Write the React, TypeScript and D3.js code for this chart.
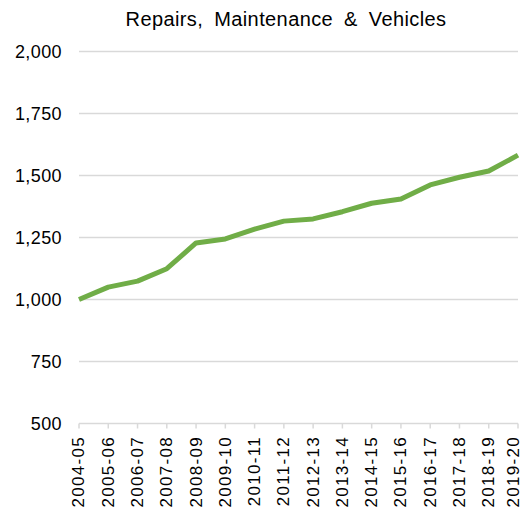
import React from "react";
import * as d3 from "d3";

const categories = [
  "2004-05", "2005-06", "2006-07", "2007-08", "2008-09", "2009-10", "2010-11", "2011-12",
  "2012-13", "2013-14", "2014-15", "2015-16", "2016-17", "2017-18", "2018-19", "2019-20",
];
const values = [
  1000, 1050, 1074, 1124, 1228, 1244, 1284, 1316,
  1325, 1354, 1388, 1405, 1462, 1493, 1518, 1582,
];
const yTicks = [500, 750, 1000, 1250, 1500, 1750, 2000];
const title = "Repairs, Maintenance & Vehicles";

export default function App() {
  const width = 526;
  const height = 509;
  const x = d3.scalePoint<string>().domain(categories).range([79, 518]);
  const y = d3.scaleLinear().domain([500, 2000]).range([423.5, 51.5]);
  const line = d3
    .line<number>()
    .x((_, i) => x(categories[i]) as number)
    .y((d) => y(d));
  const font = "'Liberation Sans', Arial, sans-serif";

  return (
    <svg
      width={width}
      height={height}
      style={{ position: "absolute", left: 0, top: 0, background: "#fff" }}
    >
      <text
        x={286}
        y={26}
        textAnchor="middle"
        fontFamily={font}
        fontSize={20}
        letterSpacing={0.4}
        fill="#000"
        style={{ wordSpacing: "5px" }}
      >
        {title}
      </text>
      {yTicks.map((t) => (
        <g key={t}>
          <line x1={79} x2={518} y1={y(t)} y2={y(t)} stroke="#d9d9d9" strokeWidth={1.5} />
          <text
            x={62}
            y={y(t)}
            dy="0.35em"
            textAnchor="end"
            fontFamily={font}
            fontSize={18}
            letterSpacing={0.4}
            fill="#000"
          >
            {d3.format(",")(t)}
          </text>
        </g>
      ))}
      {categories.map((c) => {
        const cx = x(c) as number;
        const lx = Math.min(cx - 0.5, width - 13);
        return (
          <g key={c}>
            <line x1={cx} x2={cx} y1={y(500)} y2={y(500) + 5} stroke="#d9d9d9" strokeWidth={1.5} />
            <text
              transform={`translate(${lx},${436}) rotate(-90)`}
              dy="0.35em"
              textAnchor="end"
              fontFamily={font}
              fontSize={17}
              letterSpacing={1.3}
              fill="#000"
            >
              {c}
            </text>
          </g>
        );
      })}
      <path
        d={line(values) || ""}
        fill="none"
        stroke="#70ad47"
        strokeWidth={5}
        strokeLinejoin="round"
      />
    </svg>
  );
}
